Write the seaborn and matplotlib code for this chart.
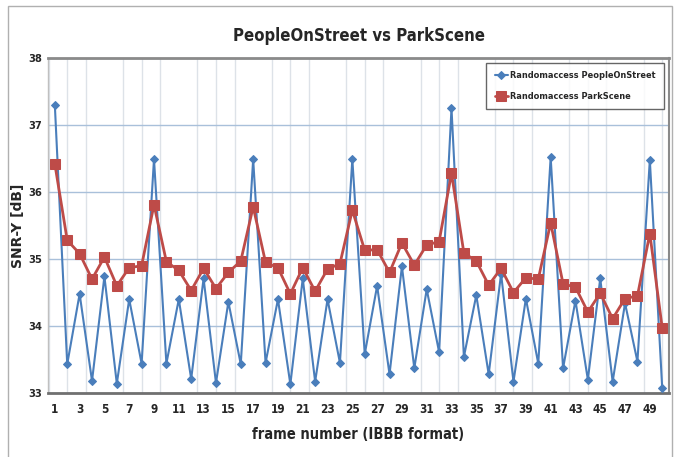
import pandas as pd
import matplotlib.pyplot as plt
import seaborn as sns
from matplotlib.ticker import MultipleLocator
from matplotlib.patches import Rectangle

# data =================================================================
frames = list(range(1, 51))

people_on_street = [37.30, 33.43, 34.48, 33.18, 34.74, 33.14, 34.40, 33.44, 36.49, 33.44,
                    34.40, 33.21, 34.71, 33.15, 34.36, 33.43, 36.49, 33.45, 34.40, 33.13,
                    34.71, 33.17, 34.40, 33.45, 36.49, 33.58, 34.60, 33.28, 34.89, 33.37,
                    34.55, 33.61, 37.25, 33.54, 34.46, 33.28, 34.78, 33.17, 34.41, 33.44,
                    36.52, 33.37, 34.38, 33.20, 34.71, 33.17, 34.34, 33.47, 36.48, 33.07]

park_scene = [36.42, 35.28, 35.08, 34.70, 35.03, 34.60, 34.87, 34.90, 35.81, 34.96,
              34.83, 34.53, 34.86, 34.56, 34.80, 34.97, 35.78, 34.95, 34.87, 34.48,
              34.87, 34.52, 34.85, 34.93, 35.73, 35.13, 35.14, 34.80, 35.24, 34.91,
              35.21, 35.26, 36.28, 35.09, 34.97, 34.61, 34.86, 34.50, 34.72, 34.70,
              35.54, 34.63, 34.58, 34.21, 34.49, 34.11, 34.41, 34.45, 35.38, 33.97]

x_ticks = list(range(1, 50, 2))
y_ticks = [33, 34, 35, 36, 37, 38]

df = pd.DataFrame({'frame': frames,
                   'PeopleOnStreet': people_on_street,
                   'ParkScene': park_scene})

# style ================================================================
sns.set_style('white')
plt.rcParams['font.family'] = ['DejaVu Sans']
plt.rcParams['font.stretch'] = 'condensed'

fig = plt.figure(figsize=(6.82, 4.57), dpi=100)
ax = fig.add_axes([0.0704, 0.140, 0.9106, 0.733])

blue = '#4a7ebb'
red = '#be4b48'

sns.lineplot(data=df, x='frame', y='PeopleOnStreet', ax=ax, color=blue, lw=1.5,
             marker='D', markersize=4.5, markeredgecolor=blue,
             label='Randomaccess PeopleOnStreet', zorder=3)
sns.lineplot(data=df, x='frame', y='ParkScene', ax=ax, color=red, lw=2,
             marker='s', markersize=6.5, markeredgecolor=red,
             label='Randomaccess ParkScene', zorder=4)

ax.set_xlim(0.45, 50.55)
ax.set_ylim(33, 38)
ax.set_xticks(x_ticks)
ax.set_yticks(y_ticks)
ax.xaxis.set_minor_locator(MultipleLocator(1.5, offset=0.5))

ax.grid(axis='y', which='major', color='#a9c0da', lw=1, zorder=0)
ax.grid(axis='x', which='minor', color='#dde2e8', lw=1, zorder=0)
ax.set_axisbelow(True)

ax.tick_params(axis='both', which='major', labelsize=8.5, length=4, width=1,
               color='#707070', direction='out', pad=3)
ax.tick_params(axis='y', which='major', labelsize=8, length=3, pad=1)
ax.tick_params(axis='both', which='minor', length=0)
for lab in ax.get_xticklabels() + ax.get_yticklabels():
    lab.set_fontweight('bold')

for side, col, lw in [('top', '#8a8a8a', 2), ('bottom', '#707070', 2),
                      ('left', '#c0c0c0', 1), ('right', '#8a8a8a', 1.5)]:
    ax.spines[side].set_visible(True)
    ax.spines[side].set_color(col)
    ax.spines[side].set_linewidth(lw)

ax.set_title('PeopleOnStreet vs ParkScene', fontsize=12, fontweight='bold', pad=12)
ax.set_xlabel('frame number (IBBB format)', fontsize=10.5, fontweight='bold', labelpad=8)
ax.set_ylabel('SNR-Y [dB]', fontsize=10, fontweight='bold', fontstretch='normal')
ax.yaxis.set_label_coords(-0.037, 0.5)

leg = ax.legend(loc='upper right', fontsize=6.6, frameon=True, fancybox=False,
                edgecolor='#404040', handlelength=1.5, handletextpad=0.2,
                borderaxespad=0.55, borderpad=0.9, labelspacing=1.3)
leg.get_frame().set_linewidth(1)
for t in leg.get_texts():
    t.set_fontweight('bold')

# outer chart border
fig.patches.append(Rectangle((8 / 682, -0.05), 664 / 682, 1.05 - 6 / 457,
                             transform=fig.transFigure, fill=False,
                             edgecolor='#b0b0b0', lw=1))

fig.savefig('out.png', dpi=100)
